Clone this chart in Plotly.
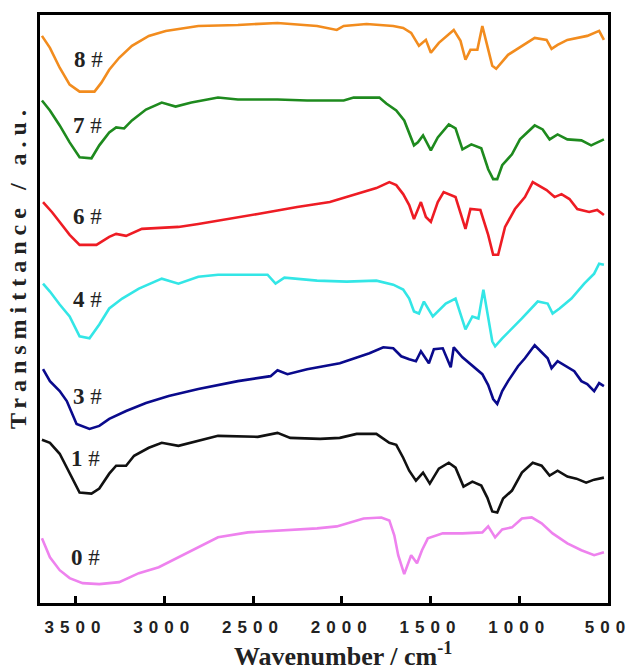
import plotly.graph_objects as go

# ---------------- data (wavenumber / cm-1, transmittance in arbitrary units) -------------
wn_8 = [3689, 3644, 3589, 3533, 3477, 3393, 3354, 3310, 3254, 3182, 3087, 2992, 2808, 2585, 2362, 2139, 2028, 1989,
        1860, 1710, 1654, 1609, 1565, 1526, 1498, 1453, 1369, 1331, 1303, 1275, 1236, 1208, 1180, 1152, 1130, 1063,
        913, 846, 818, 784, 729, 617, 550, 523]
t_8 = [570, 558, 538, 521, 514, 514, 523, 536, 548, 560, 570, 575, 580, 581, 583, 580, 576, 580,
       582, 580, 578, 573, 560, 566, 553, 563, 576, 565, 546, 556, 556, 580, 560, 540, 537, 551,
       568, 566, 557, 561, 566, 570, 575, 566]

wn_7 = [3689, 3644, 3589, 3533, 3477, 3410, 3366, 3310, 3271, 3226, 3182, 3103, 3014, 2936, 2847, 2697, 2585, 2362,
        2195, 1989, 1933, 1788, 1749, 1693, 1648, 1620, 1593, 1571, 1542, 1498, 1459, 1397, 1359, 1320, 1270, 1214,
        1175, 1147, 1124, 1096, 1041, 996, 913, 868, 829, 784, 729, 650, 595, 523]
t_7 = [505, 495, 480, 463, 448, 447, 460, 473, 478, 477, 485, 496, 503, 499, 503, 508, 506, 506,
       505, 505, 508, 508, 502, 495, 485, 473, 460, 463, 470, 455, 468, 481, 477, 456, 461, 457,
       436, 426, 426, 440, 451, 466, 480, 476, 466, 471, 466, 465, 460, 466]

wn_6 = [3683, 3633, 3589, 3533, 3477, 3382, 3310, 3271, 3215, 3126, 2920, 2808, 2473, 2251, 2067, 1972, 1805, 1732,
        1693, 1654, 1620, 1593, 1554, 1526, 1498, 1459, 1426, 1359, 1303, 1275, 1219, 1175, 1147, 1119, 1080, 1024,
        968, 924, 846, 801, 762, 717, 673, 606, 561, 523]
t_6 = [403, 393, 383, 370, 360, 360, 368, 371, 369, 376, 378, 381, 391, 398, 403, 408, 417, 423,
       420, 411, 400, 386, 403, 388, 383, 403, 413, 408, 376, 396, 395, 370, 350, 350, 378, 396,
       408, 423, 415, 408, 411, 406, 396, 393, 395, 390]

wn_4 = [3683, 3644, 3589, 3533, 3477, 3421, 3366, 3310, 3237, 3143, 3014, 2920, 2808, 2697, 2418, 2373, 2323, 2139,
        1972, 1805, 1710, 1654, 1620, 1593, 1565, 1537, 1487, 1414, 1359, 1303, 1264, 1230, 1202, 1180, 1152, 1136,
        1096, 985, 896, 840, 812, 773, 706, 634, 578, 550, 523]
t_4 = [321, 313, 300, 288, 268, 266, 280, 296, 306, 316, 326, 321, 328, 330, 330, 321, 327, 324,
       323, 324, 320, 315, 306, 293, 291, 303, 288, 301, 306, 275, 288, 286, 315, 293, 263, 258,
       266, 286, 303, 301, 291, 296, 306, 321, 331, 341, 340]

wn_3 = [3683, 3644, 3589, 3549, 3494, 3421, 3366, 3310, 3215, 3103, 2975, 2808, 2585, 2401, 2362, 2306, 2195, 2011,
        1844, 1766, 1710, 1665, 1620, 1582, 1554, 1509, 1481, 1431, 1386, 1369, 1320, 1264, 1208, 1175, 1147, 1124,
        1096, 1063, 1007, 968, 913, 840, 818, 784, 690, 650, 617, 578, 550, 523]
t_3 = [235, 223, 213, 203, 180, 175, 178, 185, 193, 201, 208, 215, 223, 228, 234, 230, 235, 241,
       251, 257, 256, 248, 245, 243, 253, 241, 255, 256, 237, 257, 247, 238, 230, 219, 205, 200,
       213, 223, 238, 246, 259, 246, 236, 243, 233, 223, 220, 213, 221, 218]

wn_1 = [3689, 3644, 3589, 3533, 3477, 3410, 3366, 3310, 3271, 3215, 3170, 3087, 3014, 2920, 2808, 2697, 2473, 2362,
        2290, 2122, 2011, 1916, 1805, 1732, 1693, 1654, 1620, 1582, 1542, 1504, 1453, 1397, 1359, 1314, 1264, 1214,
        1180, 1152, 1124, 1091, 1041, 985, 924, 874, 829, 784, 729, 678, 623, 578, 523]
t_1 = [164, 161, 150, 130, 111, 110, 115, 130, 138, 138, 148, 156, 161, 158, 163, 168, 167, 171,
       166, 165, 166, 170, 170, 161, 159, 146, 133, 123, 131, 120, 135, 141, 136, 117, 122, 118,
       106, 92, 91, 105, 113, 131, 141, 138, 128, 133, 127, 125, 121, 124, 126]

wn_0 = [3689, 3644, 3589, 3533, 3460, 3366, 3254, 3143, 3031, 2920, 2808, 2697, 2529, 2306, 2139, 2028, 1972, 1877,
        1777, 1732, 1704, 1682, 1648, 1609, 1576, 1548, 1515, 1431, 1320, 1208, 1175, 1136, 1096, 1041, 985, 930,
        874, 812, 729, 650, 578, 523]
t_0 = [65, 46, 33, 25, 20, 19, 21, 30, 36, 46, 56, 66, 71, 73, 75, 77, 80, 85,
       86, 83, 68, 48, 29, 48, 40, 53, 65, 70, 70, 71, 77, 66, 74, 76, 85, 86,
       80, 70, 60, 53, 48, 51]

sample_names = ["8 #", "7 #", "6 #", "4 #", "3 #", "1 #", "0 #"]
sample_digits = ["8", "7", "6", "4", "3", "1", "0"]
x_series = [wn_8, wn_7, wn_6, wn_4, wn_3, wn_1, wn_0]
y_series = [t_8, t_7, t_6, t_4, t_3, t_1, t_0]
colors = ["#F28C1E", "#1E8A1E", "#EE1C24", "#33E6E6", "#0A0A8C", "#111111", "#EE82EE"]

tick_vals = [3500, 3000, 2500, 2000, 1500, 1000, 500]
tick_text = ["3500", "3000", "2500", "2000", "1500", "1000", "500"]

# label anchor positions (paper fractions) for the sample labels
label_x = [0.085, 0.083, 0.083, 0.083, 0.083, 0.080, 0.080]
label_y = [0.925, 0.812, 0.657, 0.516, 0.352, 0.245, 0.078]

fig = go.Figure()
for name, xs, ys, c in zip(sample_names, x_series, y_series, colors):
    fig.add_trace(go.Scatter(x=xs, y=ys, mode="lines", name=name,
                             line=dict(color=c, width=2.6), showlegend=False))

for d, lx, ly in zip(sample_digits, label_x, label_y):
    fig.add_annotation(x=lx, y=ly, xref="paper", yref="paper", showarrow=False,
                       text="<b>" + d + "</b> #", xanchor="center", yanchor="middle",
                       font=dict(family="Liberation Serif", size=23, color="#222"))

fig.add_annotation(x=0.533, y=-0.087, xref="paper", yref="paper", showarrow=False,
                   text="<b>Wavenumber / cm<sup>-1</sup></b>", xanchor="center", yanchor="middle",
                   font=dict(family="Liberation Serif", size=26, color="#222"))
fig.add_annotation(x=-0.040, y=0.572, xref="paper", yref="paper", showarrow=False,
                   text="<b>Transmittance / a.u.</b>", textangle=-90, xanchor="center", yanchor="middle",
                   font=dict(family="Liberation Serif", size=24, color="#222"))

fig.update_layout(
    width=634, height=671,
    margin=dict(l=40, r=22, t=12, b=68),
    paper_bgcolor="white", plot_bgcolor="white",
    xaxis=dict(range=[3700, 500], tickvals=tick_vals, ticktext=tick_text,
               ticks="inside", ticklen=7, tickwidth=3, tickcolor="black",
               ticklabelstandoff=7,
               showline=True, linewidth=3, linecolor="black", mirror=True,
               showgrid=False, zeroline=False,
               tickfont=dict(family="Liberation Sans", size=17, color="#222", weight="bold")),
    yaxis=dict(range=[0, 591], showticklabels=False, ticks="",
               showline=True, linewidth=3, linecolor="black", mirror=True,
               showgrid=False, zeroline=False),
)

post = """
var gd = document.getElementById('{plot_id}');
function spacing(){
  gd.querySelectorAll('.xtick text').forEach(function(e){ e.style.letterSpacing = '6px'; });
  gd.querySelectorAll('.annotation-text').forEach(function(e){
    if (e.textContent.indexOf('Transmittance') >= 0) { e.style.letterSpacing = '6px'; }
  });
}
spacing();
"""
fig.write_html("out.html", post_script=post)
